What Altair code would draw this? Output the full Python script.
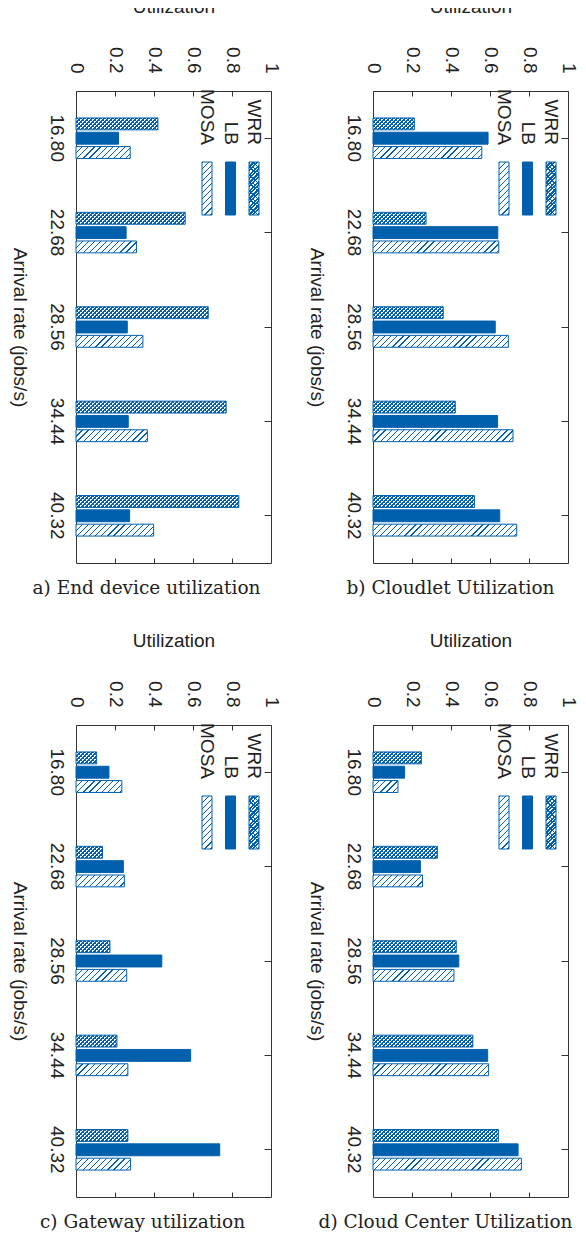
import altair as alt
import pandas as pd

# ---------------- data ----------------
rates = ["16.80", "22.68", "28.56", "34.44", "40.32"]
series = ["WRR", "LB", "MOSA"]

end_wrr = [0.42, 0.56, 0.678, 0.77, 0.835]
end_lb = [0.218, 0.257, 0.263, 0.268, 0.275]
end_mosa = [0.278, 0.31, 0.343, 0.366, 0.398]

cloudlet_wrr = [0.212, 0.272, 0.36, 0.422, 0.52]
cloudlet_lb = [0.59, 0.64, 0.627, 0.639, 0.65]
cloudlet_mosa = [0.558, 0.645, 0.694, 0.718, 0.737]

gateway_wrr = [0.106, 0.136, 0.174, 0.21, 0.266]
gateway_lb = [0.169, 0.243, 0.44, 0.588, 0.737]
gateway_mosa = [0.235, 0.248, 0.26, 0.266, 0.28]

cloud_wrr = [0.248, 0.33, 0.427, 0.512, 0.643]
cloud_lb = [0.162, 0.243, 0.44, 0.588, 0.744]
cloud_mosa = [0.128, 0.254, 0.415, 0.593, 0.761]

captions = ["a) End device utilization", "b) Cloudlet Utilization",
            "c) Gateway utilization", "d) Cloud Center Utilization"]
caption_dx = [-27, -20, -31, -25]

# ---------------- styles ----------------
BLUE = "#0060ad"
INK = "#222222"
FRAME = "#333333"
SANS = "Liberation Sans"
SERIF = "DejaVu Serif"
FS = 19
PW, PH = 195, 472
Y_STEP = PH / 5.0
BAR_H = Y_STEP * (1 - 0.545) / 3.0 * 0.83
CLEAR = "rgba(0,96,173,0)"
L_GRAD = 256.0  # pixel length covered by every hatch ramp


def stop_list(period, line, k, c_line, c_gap):
    out = []
    f = line / period
    for i in range(k):
        a, b, c = i / k, (i + f) / k, (i + 1) / k
        out += [(a, c_line), (b, c_line), (b, c_gap), (c, c_gap)]
    return out


def stops_js(stops):
    return "[" + ",".join("{offset:%.5f,color:'%s'}" % (o, c) for o, c in stops) + "]"


def stops_py(stops):
    return [{"offset": round(o, 5), "color": c} for o, c in stops]


MOSA_K = 42                      # ~6.1 px hatch period
WRR_K = 64                       # 4 px cross-hatch period
mosa_stops = stop_list(L_GRAD / MOSA_K, 1.2, MOSA_K, BLUE, "#ffffff")
wrr1_stops = stop_list(4.0, 2.0, WRR_K, BLUE, "#ffffff")
wrr2_stops = stop_list(4.0, 1.0, WRR_K, BLUE, CLEAR)


def slash_js(L, H, stops):
    d = "(datum.W*datum.W+%.4f)" % (H * H)
    return ("{gradient:'linear',x1:0,y1:0,x2:%.4f*datum.W/%s,y2:%.4f/%s,stops:%s}"
            % (L, d, L * H, d, stops_js(stops)))


def back_js(L, H, stops):
    d = "(datum.W*datum.W+%.4f)" % (H * H)
    return ("{gradient:'linear',x1:0,y1:1,x2:%.4f*datum.W/%s,y2:1-%.4f/%s,stops:%s}"
            % (L, d, L * H, d, stops_js(stops)))


def slash_py(L, W, H, stops):
    d = W * W + H * H
    return {"gradient": "linear", "x1": 0, "y1": 0, "x2": L * W / d, "y2": L * H / d,
            "stops": stops_py(stops)}


def back_py(L, W, H, stops):
    d = W * W + H * H
    return {"gradient": "linear", "x1": 0, "y1": 1, "x2": L * W / d, "y2": 1 - L * H / d,
            "stops": stops_py(stops)}


PAT_EXPR = "datum.s=='LB' ? '%s' : (datum.s=='MOSA' ? %s : %s)" % (
    BLUE, slash_js(L_GRAD, BAR_H, mosa_stops), slash_js(L_GRAD, BAR_H, wrr1_stops))
PAT2_EXPR = back_js(L_GRAD, BAR_H, wrr2_stops)

LEG_X = {"WRR": (173, 183), "LB": (149.5, 159.5), "MOSA": (126, 136)}
LEG_TEXT_Y = 54
LEG_Y0, LEG_Y1 = 71, 124


def panel(wrr, lb, mosa, caption, cdx):
    rows = []
    for r, a, b, c in zip(rates, wrr, lb, mosa):
        rows += [{"rate": r, "s": "WRR", "u": a},
                 {"rate": r, "s": "LB", "u": b},
                 {"rate": r, "s": "MOSA", "u": c}]
    df = pd.DataFrame(rows)
    base = alt.Chart(df)

    xsc = alt.Scale(domain=[0, 1], nice=False, zero=True)
    ysc = alt.Scale(domain=rates, paddingInner=0.545, paddingOuter=0.2725)
    osc = alt.Scale(domain=series, paddingInner=0.17, paddingOuter=0.085)

    x_top = alt.X("u:Q", scale=xsc, stack=None, axis=alt.Axis(
        orient="top", values=[0, 0.2, 0.4, 0.6, 0.8, 1], format="~g",
        offset=-5, tickSize=5, ticks=True, tickColor=FRAME, domain=False, grid=False,
        labelAngle=90, labelAlign="right", labelBaseline="middle", labelPadding=18,
        labelFlush=False, labelFont=SANS, labelFontSize=FS, labelColor=INK,
        title="Utilization", titleAngle=0, titleFont=SANS, titleFontSize=FS,
        titleFontWeight="normal", titleColor=INK, titlePadding=30))
    y_left = alt.Y("rate:N", scale=ysc, sort=rates, axis=alt.Axis(
        orient="left", ticks=False, domain=False, grid=False,
        labelAngle=90, labelAlign="center", labelBaseline="top", labelPadding=11,
        labelFont=SANS, labelFontSize=FS, labelColor=INK,
        title="Arrival rate (jobs/s)", titleAngle=90, titleBaseline="top",
        titleFont=SANS, titleFontSize=FS, titleFontWeight="normal", titleColor=INK,
        titlePadding=18))

    bars = base.transform_calculate(W="datum.u*%d" % PW).transform_calculate(
        pat=PAT_EXPR).mark_bar(stroke=BLUE, strokeWidth=1).encode(
        x=x_top, y=y_left,
        yOffset=alt.YOffset("s:N", scale=osc, sort=series),
        fill=alt.Fill("pat:N", scale=None))

    overlay = base.transform_filter("datum.s=='WRR'").transform_calculate(
        W="datum.u*%d" % PW).transform_calculate(pat2=PAT2_EXPR).mark_bar(
        strokeWidth=0).encode(
        x=alt.X("u:Q", scale=xsc, stack=None, axis=None),
        y=alt.Y("rate:N", scale=ysc, sort=rates, axis=None),
        yOffset=alt.YOffset("s:N", scale=osc, sort=series),
        fill=alt.Fill("pat2:N", scale=None))

    ticks = base.mark_bar(opacity=0).encode(
        x=alt.X("u:Q", scale=xsc, stack=None, axis=alt.Axis(
            orient="bottom", values=[0.2, 0.4, 0.6, 0.8], offset=-5, tickSize=5,
            labels=False, domain=False, grid=False, title=None, tickColor=FRAME)),
        y=alt.Y("rate:N", scale=ysc, sort=rates, axis=alt.Axis(
            orient="right", offset=-7, tickSize=7, labels=False, domain=False,
            grid=False, title=None, tickColor=FRAME)))

    one = alt.Data(values=[{"k": 0}])
    leg = []
    for name in series:
        x0, x1 = LEG_X[name]
        leg.append(alt.Chart(one).mark_text(
            text=name, angle=90, align="right", baseline="middle", font=SANS,
            fontSize=FS, color=INK).encode(
            x=alt.value((x0 + x1) / 2), y=alt.value(LEG_TEXT_Y)))
        w, h = x1 - x0, LEG_Y1 - LEG_Y0
        if name == "LB":
            fill = BLUE
        elif name == "MOSA":
            fill = slash_py(L_GRAD, w, h, mosa_stops)
        else:
            fill = slash_py(L_GRAD, w, h, wrr1_stops)
        leg.append(alt.Chart(one).mark_rect(fill=fill, stroke=BLUE, strokeWidth=1).encode(
            x=alt.value(x0), x2=alt.value(x1), y=alt.value(LEG_Y0), y2=alt.value(LEG_Y1)))
        if name == "WRR":
            leg.append(alt.Chart(one).mark_rect(
                fill=back_py(L_GRAD, w, h, wrr2_stops), strokeWidth=0).encode(
                x=alt.value(x0), x2=alt.value(x1), y=alt.value(LEG_Y0), y2=alt.value(LEG_Y1)))

    return alt.layer(bars, overlay, ticks, *leg).resolve_axis(
        x="independent", y="independent").properties(
        width=PW, height=PH,
        title=alt.TitleParams(caption, orient="bottom", anchor="middle", font=SERIF,
                              fontSize=18.5, fontWeight="normal", color=INK,
                              offset=15, dx=cdx))


pa = panel(end_wrr, end_lb, end_mosa, captions[0], caption_dx[0])
pb = panel(cloudlet_wrr, cloudlet_lb, cloudlet_mosa, captions[1], caption_dx[1])
pc = panel(gateway_wrr, gateway_lb, gateway_mosa, captions[2], caption_dx[2])
pd_ = panel(cloud_wrr, cloud_lb, cloud_mosa, captions[3], caption_dx[3])

chart = alt.vconcat(
    alt.hconcat(pa, pb, spacing=24),
    alt.hconcat(pc, pd_, spacing=24),
    spacing=33,
).properties(
    padding={"top": -11, "bottom": 0, "left": 0, "right": 0}
).configure_view(stroke=FRAME, strokeWidth=1)

chart.save("out.html", embed_options={"renderer": "svg", "actions": False})
